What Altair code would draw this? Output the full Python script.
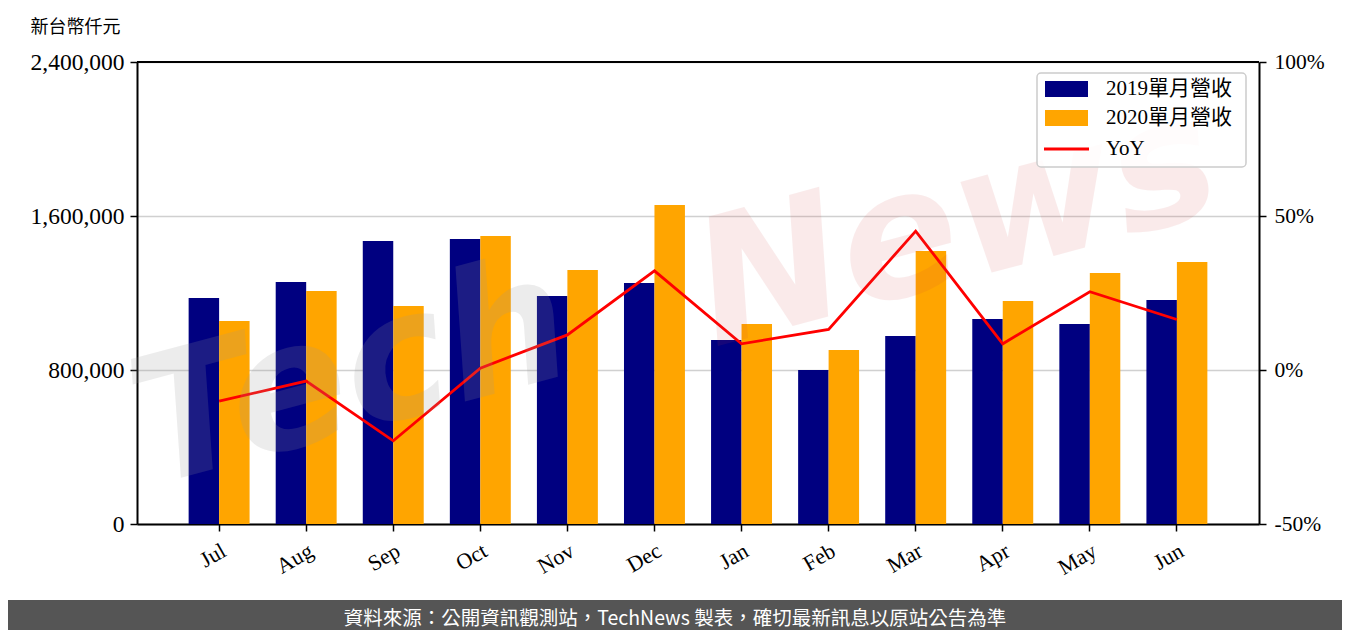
import altair as alt
import pandas as pd

months = ["Jul", "Aug", "Sep", "Oct", "Nov", "Dec", "Jan", "Feb", "Mar", "Apr", "May", "Jun"]
rev_2019 = [1174000, 1257000, 1470000, 1481000, 1184000, 1252000, 956000, 800000, 977000, 1065000, 1039000, 1164000]
rev_2020 = [1054000, 1210000, 1132000, 1496000, 1319000, 1657000, 1039000, 904000, 1418000, 1158000, 1304000, 1361000]
yoy_pct = [-10.1, -3.6, -23.0, 0.6, 11.4, 32.2, 8.5, 13.2, 45.1, 8.5, 25.4, 16.4]
series_names = ["2019單月營收", "2020單月營收"]
series_colors = ["#000080", "#FFA500"]
line_name = "YoY"
line_color = "#FF0000"
y_title = "新台幣仟元"
footer_text = "資料來源：公開資訊觀測站，TechNews 製表，確切最新訊息以原站公告為準"

rows = []
for m, a, b in zip(months, rev_2019, rev_2020):
    rows.append({"month": m, "series": series_names[0], "value": a})
    rows.append({"month": m, "series": series_names[1], "value": b})
df_bars = pd.DataFrame(rows)
df_line = pd.DataFrame({"month": months, "yoy": yoy_pct})
dummy = pd.DataFrame({"d": [0]})

W, H = 1122, 462
SERIF = "Liberation Serif, Noto Sans CJK TC"

x_enc = alt.X(
    "month:N", sort=months, title=None,
    scale=alt.Scale(paddingInner=0.3, paddingOuter=0.593),
    axis=alt.Axis(labelAngle=-30, labelAlign="right", labelBaseline="top",
                  labelFont=SERIF, labelFontSize=22, labelColor="black",
                  tickSize=7, tickColor="black", tickWidth=1.5, labelPadding=9,
                  domainColor="black", domainWidth=2, grid=False, bandPosition=0.5),
)

bars = alt.Chart(df_bars).mark_bar().encode(
    x=x_enc,
    xOffset=alt.XOffset("series:N", sort=series_names,
                        scale=alt.Scale(paddingInner=0, paddingOuter=0)),
    y=alt.Y("value:Q", scale=alt.Scale(domain=[0, 2400000], nice=False),
            axis=alt.Axis(values=[0, 800000, 1600000, 2400000], format=",d",
                          title=y_title, titleAngle=0, titleAlign="left",
                          titleBaseline="middle", titleX=-107, titleY=-35,
                          titleFont="Noto Sans CJK TC", titleFontSize=18,
                          titleFontWeight="normal", titleColor="black",
                          labelFont=SERIF, labelFontSize=23.5, labelColor="black",
                          tickSize=7, tickColor="black", tickWidth=1.5, labelPadding=6,
                          domainColor="black", domainWidth=2,
                          grid=True, gridColor="#d0d0d0", gridWidth=1.5)),
    color=alt.Color("series:N", scale=alt.Scale(domain=series_names, range=series_colors),
                    legend=None),
)

line = alt.Chart(df_line).mark_line(color=line_color, strokeWidth=2.8).encode(
    x=alt.X("month:N", sort=months),
    y=alt.Y("yoy:Q", scale=alt.Scale(domain=[-50, 100], nice=False),
            axis=alt.Axis(orient="right", values=[-50, 0, 50, 100],
                          labelExpr="datum.value + '%'", title=None,
                          labelFont=SERIF, labelFontSize=21.5, labelColor="black",
                          tickSize=7, tickColor="black", tickWidth=1.5, labelPadding=8,
                          domainColor="black", domainWidth=2, grid=False)),
)

top_frame = alt.Chart(dummy).mark_rule(color="black", strokeWidth=2).encode(
    x=alt.value(0), x2=alt.value(W), y=alt.value(0))

wm_tech = alt.Chart(dummy).mark_text(
    text="Tech", font="DejaVu Sans", fontSize=175, fontWeight="bold", fontStyle="italic",
    angle=345, color="#999999", opacity=0.18, align="center", baseline="middle",
).encode(x=alt.value(215), y=alt.value(315))

wm_news = alt.Chart(dummy).mark_text(
    text="News", font="DejaVu Sans", fontSize=175, fontWeight="bold", fontStyle="italic",
    angle=345, color="#d04040", opacity=0.1, align="center", baseline="middle",
).encode(x=alt.value(820), y=alt.value(165))

leg_box = alt.Chart(dummy).mark_rect(
    fill="white", fillOpacity=0.85, stroke="#cccccc", strokeWidth=1.5, cornerRadius=4
).encode(x=alt.value(900), x2=alt.value(1109), y=alt.value(11), y2=alt.value(105))

leg_items = []
for i, (name, col) in enumerate(zip(series_names, series_colors)):
    yc = 27 + 29 * i
    leg_items.append(alt.Chart(dummy).mark_rect(color=col).encode(
        x=alt.value(908), x2=alt.value(951), y=alt.value(yc - 8), y2=alt.value(yc + 8)))
    leg_items.append(alt.Chart(dummy).mark_text(
        text=name, font=SERIF, fontSize=21, color="black", align="left", baseline="middle"
    ).encode(x=alt.value(969), y=alt.value(yc)))
leg_items.append(alt.Chart(dummy).mark_rule(color=line_color, strokeWidth=3).encode(
    x=alt.value(907), x2=alt.value(952), y=alt.value(87)))
leg_items.append(alt.Chart(dummy).mark_text(
    text=line_name, font=SERIF, fontSize=21, color="black", align="left", baseline="middle"
).encode(x=alt.value(969), y=alt.value(87)))

footer_bg = alt.Chart(dummy).mark_rect(color="#555555").encode(
    x=alt.value(-129), x2=alt.value(1205), y=alt.value(538), y2=alt.value(570))
footer_txt = alt.Chart(dummy).mark_text(
    text=footer_text, font="Noto Sans CJK TC", fontSize=19.5, color="white",
    align="center", baseline="middle"
).encode(x=alt.value(538), y=alt.value(557))

chart = alt.layer(
    bars, line, top_frame, wm_tech, wm_news, leg_box, *leg_items, footer_bg, footer_txt
).resolve_scale(y="independent").properties(
    width=W, height=H, autosize="none",
    padding={"left": 129, "top": 54, "right": 83, "bottom": 106},
).configure_view(stroke="black", strokeWidth=2).configure(background="white")

chart.save("out.html", embed_options={"renderer": "svg", "actions": False})
